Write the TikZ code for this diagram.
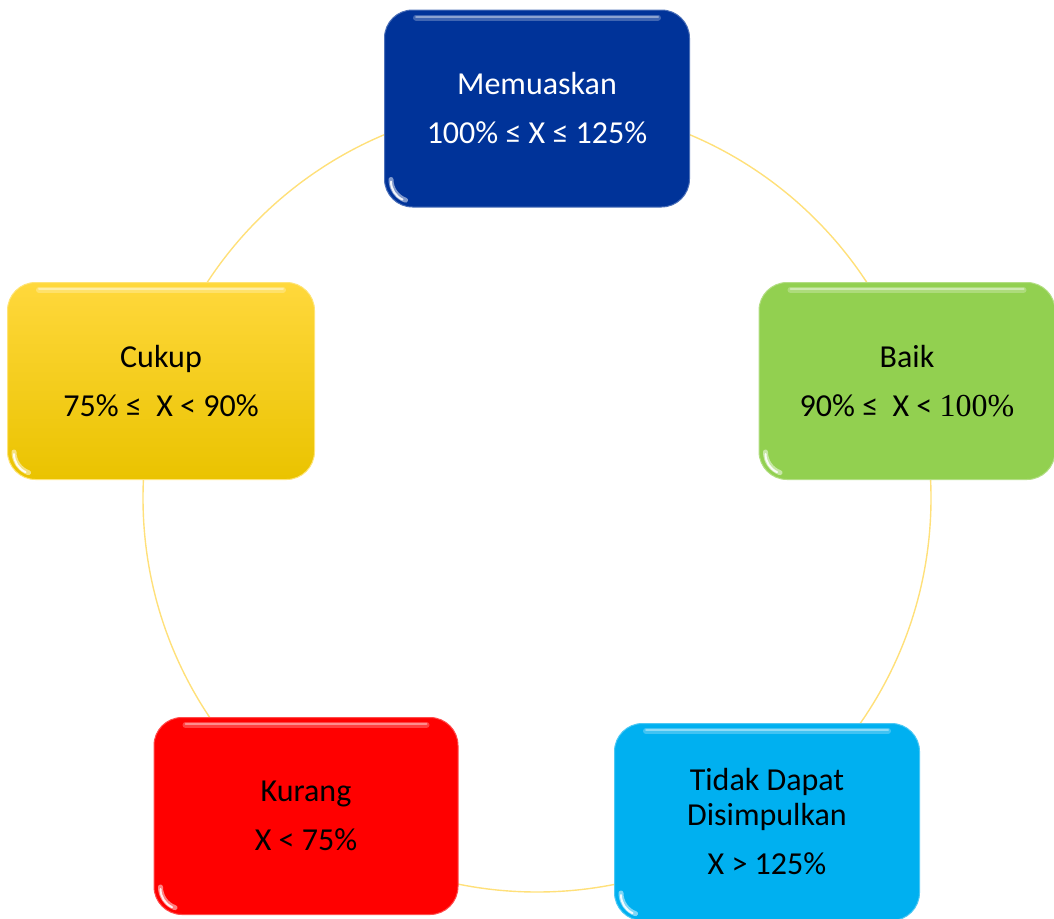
\documentclass[tikz,border=0pt]{standalone}
\usepackage{fontspec}
\setmainfont{Carlito}
\newfontfamily\serifnum{Liberation Serif}
\definecolor{ringc}{HTML}{FFE07A}
\definecolor{blueb}{HTML}{003399}
\definecolor{greenb}{HTML}{92D050}
\definecolor{yellowtop}{HTML}{FFD83C}
\definecolor{yellowbot}{HTML}{EAC300}
\definecolor{redb}{HTML}{FF0000}
\definecolor{cyanb}{HTML}{00B0F0}
\begin{document}
\begin{tikzpicture}[x=1pt,y=-1pt,
  boxst/.style={rectangle, rounded corners=28pt, minimum width=305pt, minimum height=197pt,
    inner sep=0pt, align=center, font=\fontsize{32}{35}\selectfont, text=black},
  ringst/.style={circle, draw=ringc, line width=1.4pt, minimum size=788pt, inner sep=0pt}]
\useasboundingbox (0,0) rectangle (1054,918);
\node[ringst] (ring) at (537,498) {};
\node[boxst, fill=blueb, draw=blueb!70!white, line width=1pt, text=white] (top) at (537,108.5)
  {Memuaskan\\[14pt]100\% ≤ X ≤ 125\%};
\node[boxst, fill=greenb, draw=greenb!70!white, line width=1pt, minimum width=296pt] (right) at (907,381)
  {Baik\\[14pt]90\% ≤\ \ X < {\serifnum 100\%}};
\node[boxst, top color=yellowtop, bottom color=yellowbot, draw=yellowtop!70!white, line width=1pt, minimum width=307pt] (left) at (161,381)
  {Cukup\\[14pt]75\% ≤\ \ X < 90\%};
\node[boxst, fill=redb, draw=redb!70!white, line width=1pt, minimum width=304pt] (bl) at (306,816)
  {Kurang\\[14pt]X < 75\%};
\node[boxst, fill=cyanb, draw=cyanb!70!white, line width=1pt] (br) at (767,822)
  {Tidak Dapat\\Disimpulkan\\[14pt]X > 125\%};
\foreach \n in {top,right,left,bl,br}{
  \draw[white, opacity=.25, line width=6pt, line cap=round]
    ([xshift=32pt,yshift=-8pt]\n.north west) -- ([xshift=-32pt,yshift=-8pt]\n.north east);
  \draw[white, opacity=.4, line width=2pt, line cap=round]
    ([xshift=32pt,yshift=-7pt]\n.north west) -- ([xshift=-32pt,yshift=-7pt]\n.north east);
  \draw[white, opacity=.5, line width=5pt, line cap=round]
    ([xshift=7pt,yshift=28pt]\n.south west) arc[start angle=180,end angle=250,radius=22pt];
  \draw[white, opacity=.9, line width=2pt, line cap=round]
    ([xshift=7pt,yshift=26pt]\n.south west) arc[start angle=180,end angle=245,radius=20pt];
}
\end{tikzpicture}
\end{document}
